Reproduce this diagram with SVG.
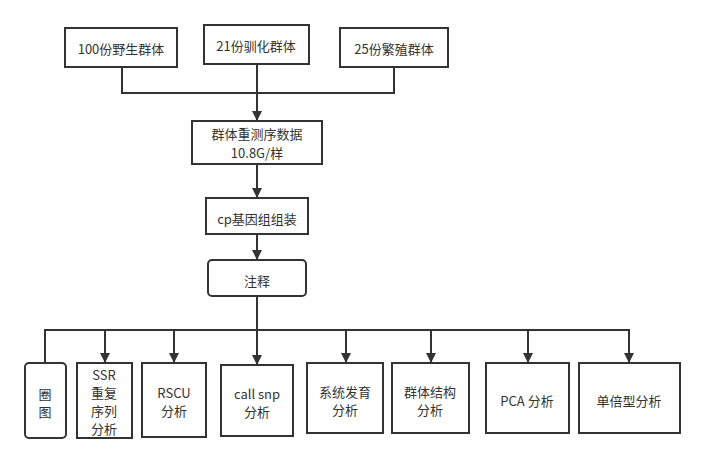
<svg xmlns="http://www.w3.org/2000/svg" width="704" height="463" viewBox="0 0 704 463">
<style>
.b{fill:#fff;stroke:#333;stroke-width:2}
.t{font-family:"Microsoft YaHei","Noto Sans CJK SC","Noto Sans",sans-serif;font-size:13px;fill:#333;text-anchor:middle;dominant-baseline:central}
.c{fill:none;stroke:#333;stroke-width:2}
</style>
<defs>
<marker id="ar" markerWidth="10" markerHeight="10" refX="9" refY="5" orient="auto" markerUnits="userSpaceOnUse">
<path d="M0,0 L10,5 L0,10 Z" fill="#333"/>
</marker>
</defs>
<rect width="704" height="463" fill="#fff"/>
<g id="connectors">
<path class="c" d="M122,67 V93 H394 V67"/>
<path class="c" d="M257,64 V120" marker-end="url(#ar)"/>
<path class="c" d="M257,164 V197" marker-end="url(#ar)"/>
<path class="c" d="M257,234 V259" marker-end="url(#ar)"/>
<path class="c" d="M257,296 V364" marker-end="url(#ar)"/>
<path class="c" d="M45,362 V330 H629 V362" marker-end="url(#ar)"/>
<path class="c" d="M105,330 V362" marker-end="url(#ar)"/>
<path class="c" d="M174,330 V362" marker-end="url(#ar)"/>
<path class="c" d="M346,330 V362" marker-end="url(#ar)"/>
<path class="c" d="M431,330 V362" marker-end="url(#ar)"/>
<path class="c" d="M528,330 V362" marker-end="url(#ar)"/>
</g>
<g id="n1"><rect class="b" x="65" y="28" width="112" height="39"/><text class="t" x="121" y="48">100份野生群体</text></g>
<g id="n2"><rect class="b" x="204" y="25" width="105" height="39"/><text class="t" x="256" y="45">21份驯化群体</text></g>
<g id="n3"><rect class="b" x="340" y="28" width="108" height="39"/><text class="t" x="394" y="48">25份繁殖群体</text></g>
<g id="n4"><rect class="b" x="192" y="121" width="130" height="43"/><text class="t" x="257" y="133">群体重测序数据</text><text class="t" x="257" y="152">10.8G/样</text></g>
<g id="n5"><rect class="b" x="206" y="198" width="102" height="36"/><text class="t" x="257" y="218">cp基因组组装</text></g>
<g id="n6"><rect class="b" x="208" y="260" width="98" height="36" rx="4"/><text class="t" x="257" y="280">注释</text></g>
<g id="n7"><rect class="b" x="25" y="363" width="41" height="75" rx="4"/><text class="t" x="45" y="393">圈</text><text class="t" x="45" y="411">图</text></g>
<g id="n8"><rect class="b" x="77" y="363" width="55" height="75"/><text class="t" x="104" y="374">SSR</text><text class="t" x="104" y="392">重复</text><text class="t" x="104" y="410">序列</text><text class="t" x="104" y="428">分析</text></g>
<g id="n9"><rect class="b" x="142" y="363" width="64" height="74"/><text class="t" x="174" y="392">RSCU</text><text class="t" x="174" y="410">分析</text></g>
<g id="n10"><rect class="b" x="221" y="365" width="72" height="71"/><text class="t" x="257" y="393">call snp</text><text class="t" x="257" y="411">分析</text></g>
<g id="n11"><rect class="b" x="307" y="363" width="76" height="70"/><text class="t" x="345" y="391">系统发育</text><text class="t" x="345" y="409">分析</text></g>
<g id="n12"><rect class="b" x="392" y="363" width="77" height="70"/><text class="t" x="430" y="391">群体结构</text><text class="t" x="430" y="409">分析</text></g>
<g id="n13"><rect class="b" x="486" y="363" width="83" height="70"/><text class="t" x="527" y="400">PCA 分析</text></g>
<g id="n14"><rect class="b" x="579" y="363" width="101" height="70"/><text class="t" x="629" y="400">单倍型分析</text></g>
</svg>
